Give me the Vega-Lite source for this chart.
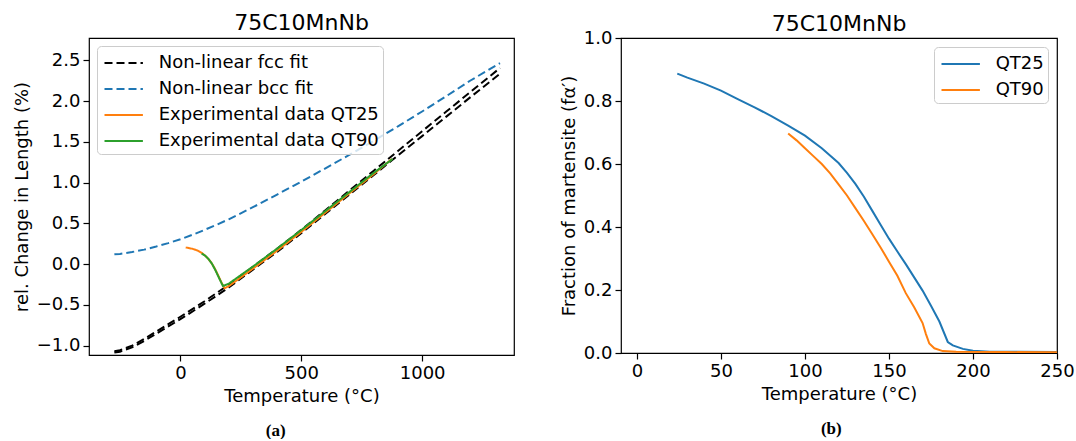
{
  "$schema": "https://vega.github.io/schema/vega-lite/v6.json",
  "background": "white",
  "padding": {"left": 12, "top": 11, "right": 0, "bottom": 0},
  "datasets": {
    "a": [
      {"T": -273, "v": -1.067, "series": "Non-linear fcc fit", "sub": "fcc1"},
      {"T": -250, "v": -1.056, "series": "Non-linear fcc fit", "sub": "fcc1"},
      {"T": -200, "v": -1.0, "series": "Non-linear fcc fit", "sub": "fcc1"},
      {"T": -150, "v": -0.918, "series": "Non-linear fcc fit", "sub": "fcc1"},
      {"T": -100, "v": -0.827, "series": "Non-linear fcc fit", "sub": "fcc1"},
      {"T": -50, "v": -0.736, "series": "Non-linear fcc fit", "sub": "fcc1"},
      {"T": 0, "v": -0.645, "series": "Non-linear fcc fit", "sub": "fcc1"},
      {"T": 100, "v": -0.455, "series": "Non-linear fcc fit", "sub": "fcc1"},
      {"T": 200, "v": -0.253, "series": "Non-linear fcc fit", "sub": "fcc1"},
      {"T": 300, "v": -0.032, "series": "Non-linear fcc fit", "sub": "fcc1"},
      {"T": 400, "v": 0.189, "series": "Non-linear fcc fit", "sub": "fcc1"},
      {"T": 500, "v": 0.42, "series": "Non-linear fcc fit", "sub": "fcc1"},
      {"T": 600, "v": 0.662, "series": "Non-linear fcc fit", "sub": "fcc1"},
      {"T": 700, "v": 0.904, "series": "Non-linear fcc fit", "sub": "fcc1"},
      {"T": 800, "v": 1.146, "series": "Non-linear fcc fit", "sub": "fcc1"},
      {"T": 900, "v": 1.388, "series": "Non-linear fcc fit", "sub": "fcc1"},
      {"T": 1000, "v": 1.63, "series": "Non-linear fcc fit", "sub": "fcc1"},
      {"T": 1100, "v": 1.871, "series": "Non-linear fcc fit", "sub": "fcc1"},
      {"T": 1200, "v": 2.112, "series": "Non-linear fcc fit", "sub": "fcc1"},
      {"T": 1322, "v": 2.405, "series": "Non-linear fcc fit", "sub": "fcc1"},
      {"T": -273, "v": -1.083, "series": "Non-linear fcc fit", "sub": "fcc2"},
      {"T": -250, "v": -1.074, "series": "Non-linear fcc fit", "sub": "fcc2"},
      {"T": -200, "v": -1.02, "series": "Non-linear fcc fit", "sub": "fcc2"},
      {"T": -150, "v": -0.942, "series": "Non-linear fcc fit", "sub": "fcc2"},
      {"T": -100, "v": -0.853, "series": "Non-linear fcc fit", "sub": "fcc2"},
      {"T": -50, "v": -0.764, "series": "Non-linear fcc fit", "sub": "fcc2"},
      {"T": 0, "v": -0.675, "series": "Non-linear fcc fit", "sub": "fcc2"},
      {"T": 100, "v": -0.485, "series": "Non-linear fcc fit", "sub": "fcc2"},
      {"T": 200, "v": -0.287, "series": "Non-linear fcc fit", "sub": "fcc2"},
      {"T": 300, "v": -0.068, "series": "Non-linear fcc fit", "sub": "fcc2"},
      {"T": 400, "v": 0.151, "series": "Non-linear fcc fit", "sub": "fcc2"},
      {"T": 500, "v": 0.38, "series": "Non-linear fcc fit", "sub": "fcc2"},
      {"T": 600, "v": 0.618, "series": "Non-linear fcc fit", "sub": "fcc2"},
      {"T": 700, "v": 0.856, "series": "Non-linear fcc fit", "sub": "fcc2"},
      {"T": 800, "v": 1.094, "series": "Non-linear fcc fit", "sub": "fcc2"},
      {"T": 900, "v": 1.332, "series": "Non-linear fcc fit", "sub": "fcc2"},
      {"T": 1000, "v": 1.57, "series": "Non-linear fcc fit", "sub": "fcc2"},
      {"T": 1100, "v": 1.809, "series": "Non-linear fcc fit", "sub": "fcc2"},
      {"T": 1200, "v": 2.048, "series": "Non-linear fcc fit", "sub": "fcc2"},
      {"T": 1322, "v": 2.335, "series": "Non-linear fcc fit", "sub": "fcc2"},
      {"T": -273, "v": 0.12, "series": "Non-linear bcc fit", "sub": "bcc"},
      {"T": -250, "v": 0.125, "series": "Non-linear bcc fit", "sub": "bcc"},
      {"T": -200, "v": 0.148, "series": "Non-linear bcc fit", "sub": "bcc"},
      {"T": -150, "v": 0.178, "series": "Non-linear bcc fit", "sub": "bcc"},
      {"T": -100, "v": 0.216, "series": "Non-linear bcc fit", "sub": "bcc"},
      {"T": -50, "v": 0.258, "series": "Non-linear bcc fit", "sub": "bcc"},
      {"T": 0, "v": 0.305, "series": "Non-linear bcc fit", "sub": "bcc"},
      {"T": 50, "v": 0.36, "series": "Non-linear bcc fit", "sub": "bcc"},
      {"T": 100, "v": 0.42, "series": "Non-linear bcc fit", "sub": "bcc"},
      {"T": 150, "v": 0.483, "series": "Non-linear bcc fit", "sub": "bcc"},
      {"T": 200, "v": 0.55, "series": "Non-linear bcc fit", "sub": "bcc"},
      {"T": 300, "v": 0.698, "series": "Non-linear bcc fit", "sub": "bcc"},
      {"T": 400, "v": 0.853, "series": "Non-linear bcc fit", "sub": "bcc"},
      {"T": 500, "v": 1.012, "series": "Non-linear bcc fit", "sub": "bcc"},
      {"T": 600, "v": 1.175, "series": "Non-linear bcc fit", "sub": "bcc"},
      {"T": 700, "v": 1.342, "series": "Non-linear bcc fit", "sub": "bcc"},
      {"T": 800, "v": 1.513, "series": "Non-linear bcc fit", "sub": "bcc"},
      {"T": 900, "v": 1.69, "series": "Non-linear bcc fit", "sub": "bcc"},
      {"T": 1000, "v": 1.872, "series": "Non-linear bcc fit", "sub": "bcc"},
      {"T": 1100, "v": 2.06, "series": "Non-linear bcc fit", "sub": "bcc"},
      {"T": 1200, "v": 2.252, "series": "Non-linear bcc fit", "sub": "bcc"},
      {"T": 1322, "v": 2.465, "series": "Non-linear bcc fit", "sub": "bcc"},
      {"T": 22, "v": 0.205, "series": "Experimental data QT25", "sub": "q25"},
      {"T": 50, "v": 0.188, "series": "Experimental data QT25", "sub": "q25"},
      {"T": 70, "v": 0.168, "series": "Experimental data QT25", "sub": "q25"},
      {"T": 90, "v": 0.135, "series": "Experimental data QT25", "sub": "q25"},
      {"T": 110, "v": 0.082, "series": "Experimental data QT25", "sub": "q25"},
      {"T": 125, "v": 0.03, "series": "Experimental data QT25", "sub": "q25"},
      {"T": 140, "v": -0.04, "series": "Experimental data QT25", "sub": "q25"},
      {"T": 155, "v": -0.13, "series": "Experimental data QT25", "sub": "q25"},
      {"T": 170, "v": -0.225, "series": "Experimental data QT25", "sub": "q25"},
      {"T": 183, "v": -0.295, "series": "Experimental data QT25", "sub": "q25"},
      {"T": 200, "v": -0.27, "series": "Experimental data QT25", "sub": "q25"},
      {"T": 300, "v": -0.055, "series": "Experimental data QT25", "sub": "q25"},
      {"T": 400, "v": 0.165, "series": "Experimental data QT25", "sub": "q25"},
      {"T": 500, "v": 0.395, "series": "Experimental data QT25", "sub": "q25"},
      {"T": 600, "v": 0.632, "series": "Experimental data QT25", "sub": "q25"},
      {"T": 700, "v": 0.87, "series": "Experimental data QT25", "sub": "q25"},
      {"T": 800, "v": 1.105, "series": "Experimental data QT25", "sub": "q25"},
      {"T": 875, "v": 1.29, "series": "Experimental data QT25", "sub": "q25"},
      {"T": 88, "v": 0.13, "series": "Experimental data QT90", "sub": "q90"},
      {"T": 100, "v": 0.11, "series": "Experimental data QT90", "sub": "q90"},
      {"T": 115, "v": 0.068, "series": "Experimental data QT90", "sub": "q90"},
      {"T": 130, "v": 0.008, "series": "Experimental data QT90", "sub": "q90"},
      {"T": 145, "v": -0.075, "series": "Experimental data QT90", "sub": "q90"},
      {"T": 160, "v": -0.17, "series": "Experimental data QT90", "sub": "q90"},
      {"T": 176, "v": -0.268, "series": "Experimental data QT90", "sub": "q90"},
      {"T": 200, "v": -0.24, "series": "Experimental data QT90", "sub": "q90"},
      {"T": 300, "v": -0.03, "series": "Experimental data QT90", "sub": "q90"},
      {"T": 400, "v": 0.19, "series": "Experimental data QT90", "sub": "q90"},
      {"T": 500, "v": 0.418, "series": "Experimental data QT90", "sub": "q90"},
      {"T": 600, "v": 0.652, "series": "Experimental data QT90", "sub": "q90"},
      {"T": 700, "v": 0.886, "series": "Experimental data QT90", "sub": "q90"},
      {"T": 800, "v": 1.12, "series": "Experimental data QT90", "sub": "q90"},
      {"T": 878, "v": 1.29, "series": "Experimental data QT90", "sub": "q90"}
    ],
    "b": [
      {"T": 24, "f": 0.887, "s": "QT25"},
      {"T": 30, "f": 0.874, "s": "QT25"},
      {"T": 40, "f": 0.855, "s": "QT25"},
      {"T": 50, "f": 0.833, "s": "QT25"},
      {"T": 60, "f": 0.806, "s": "QT25"},
      {"T": 70, "f": 0.78, "s": "QT25"},
      {"T": 80, "f": 0.752, "s": "QT25"},
      {"T": 90, "f": 0.722, "s": "QT25"},
      {"T": 100, "f": 0.69, "s": "QT25"},
      {"T": 110, "f": 0.65, "s": "QT25"},
      {"T": 120, "f": 0.603, "s": "QT25"},
      {"T": 125, "f": 0.572, "s": "QT25"},
      {"T": 130, "f": 0.537, "s": "QT25"},
      {"T": 135, "f": 0.497, "s": "QT25"},
      {"T": 140, "f": 0.452, "s": "QT25"},
      {"T": 145, "f": 0.407, "s": "QT25"},
      {"T": 150, "f": 0.363, "s": "QT25"},
      {"T": 155, "f": 0.322, "s": "QT25"},
      {"T": 160, "f": 0.282, "s": "QT25"},
      {"T": 165, "f": 0.24, "s": "QT25"},
      {"T": 170, "f": 0.198, "s": "QT25"},
      {"T": 175, "f": 0.15, "s": "QT25"},
      {"T": 180, "f": 0.1, "s": "QT25"},
      {"T": 185, "f": 0.035, "s": "QT25"},
      {"T": 188, "f": 0.024, "s": "QT25"},
      {"T": 194, "f": 0.013, "s": "QT25"},
      {"T": 200, "f": 0.007, "s": "QT25"},
      {"T": 210, "f": 0.004, "s": "QT25"},
      {"T": 225, "f": 0.004, "s": "QT25"},
      {"T": 250, "f": 0.003, "s": "QT25"},
      {"T": 90, "f": 0.697, "s": "QT90"},
      {"T": 95, "f": 0.675, "s": "QT90"},
      {"T": 100, "f": 0.65, "s": "QT90"},
      {"T": 105, "f": 0.625, "s": "QT90"},
      {"T": 110, "f": 0.6, "s": "QT90"},
      {"T": 115, "f": 0.57, "s": "QT90"},
      {"T": 120, "f": 0.535, "s": "QT90"},
      {"T": 125, "f": 0.5, "s": "QT90"},
      {"T": 130, "f": 0.46, "s": "QT90"},
      {"T": 135, "f": 0.42, "s": "QT90"},
      {"T": 140, "f": 0.378, "s": "QT90"},
      {"T": 145, "f": 0.335, "s": "QT90"},
      {"T": 150, "f": 0.29, "s": "QT90"},
      {"T": 155, "f": 0.245, "s": "QT90"},
      {"T": 160, "f": 0.19, "s": "QT90"},
      {"T": 165, "f": 0.145, "s": "QT90"},
      {"T": 170, "f": 0.095, "s": "QT90"},
      {"T": 172, "f": 0.06, "s": "QT90"},
      {"T": 174, "f": 0.03, "s": "QT90"},
      {"T": 177, "f": 0.015, "s": "QT90"},
      {"T": 182, "f": 0.006, "s": "QT90"},
      {"T": 190, "f": 0.004, "s": "QT90"},
      {"T": 220, "f": 0.003, "s": "QT90"},
      {"T": 250, "f": 0.002, "s": "QT90"}
    ]
  },
  "spacing": 44,
  "hconcat": [
    {
      "vconcat": [
        {
          "width": 425,
          "height": 317,
          "title": {"text": "75C10MnNb", "offset": 3},
          "data": {"name": "a"},
          "mark": {"type": "line", "strokeWidth": 2, "clip": true},
          "encoding": {
            "x": {"field": "T", "type": "quantitative", "scale": {"domain": [-378, 1380], "nice": false, "zero": false}, "axis": {"values": [0, 500, 1000], "format": "d", "title": "Temperature (°C)"}},
            "y": {"field": "v", "type": "quantitative", "scale": {"domain": [-1.114, 2.773], "nice": false, "zero": false}, "axis": {"values": [-1, -0.5, 0, 0.5, 1, 1.5, 2, 2.5], "format": ".1f", "title": "rel. Change in Length (%)"}},
            "color": {"field": "series", "type": "nominal", "scale": {"domain": ["Non-linear fcc fit", "Non-linear bcc fit", "Experimental data QT25", "Experimental data QT90"], "range": ["#000000", "#1f77b4", "#ff7f0e", "#2ca02c"]}, "legend": {"title": null, "orient": "top-left"}},
            "strokeDash": {"field": "series", "type": "nominal", "scale": {"domain": ["Non-linear fcc fit", "Non-linear bcc fit", "Experimental data QT25", "Experimental data QT90"], "range": [[8, 4], [8, 4], [1, 0], [1, 0]]}, "legend": {"title": null, "orient": "top-left"}},
            "detail": {"field": "sub", "type": "nominal"}
          }
        }
      ],
      "resolve": {"legend": {"color": "independent", "strokeDash": "independent"}},
      "title": {"text": "(a)", "orient": "bottom", "anchor": "middle", "dx": 12, "font": "Liberation Serif", "fontWeight": "bold", "fontSize": 17, "offset": 17}
    },
    {
      "vconcat": [
        {
          "width": 436,
          "height": 315,
          "title": {"text": "75C10MnNb", "offset": -7},
          "data": {"name": "b"},
          "mark": {"type": "line", "strokeWidth": 2, "clip": true},
          "encoding": {
            "x": {"field": "T", "type": "quantitative", "scale": {"domain": [-9.5, 250], "nice": false, "zero": false}, "axis": {"values": [0, 50, 100, 150, 200, 250], "title": "Temperature (°C)"}},
            "y": {"field": "f", "type": "quantitative", "scale": {"domain": [0, 1], "nice": false}, "axis": {"values": [0, 0.2, 0.4, 0.6, 0.8, 1.0], "format": ".1f", "title": "Fraction of martensite (fα′)"}},
            "color": {"field": "s", "type": "nominal", "scale": {"domain": ["QT25", "QT90"], "range": ["#1f77b4", "#ff7f0e"]}, "legend": {"title": null, "orient": "top-right", "offset": 9}}
          }
        }
      ],
      "resolve": {"legend": {"color": "independent"}},
      "title": {"text": "(b)", "orient": "bottom", "anchor": "middle", "dx": 14, "font": "Liberation Serif", "fontWeight": "bold", "fontSize": 17, "offset": 17}
    }
  ],
  "resolve": {"scale": {"color": "independent", "strokeDash": "independent", "x": "independent", "y": "independent"}, "legend": {"color": "independent", "strokeDash": "independent"}},
  "config": {
    "font": "DejaVu Sans",
    "view": {"stroke": "#000000", "strokeWidth": 1.2},
    "axis": {"grid": false, "domain": false, "ticks": true, "labelFlush": false, "tickColor": "#000000", "tickSize": 6, "tickWidth": 1.2, "labelColor": "#000000", "labelFontSize": 18, "labelFont": "DejaVu Sans", "labelPadding": 3, "titleFont": "DejaVu Sans", "titleFontSize": 18, "titleFontWeight": "normal", "titleColor": "#000000", "titlePadding": 5},
    "title": {"font": "DejaVu Sans", "fontSize": 22, "fontWeight": "normal", "color": "#000000"},
    "legend": {"labelFontSize": 18, "labelFont": "DejaVu Sans", "labelColor": "#000000", "symbolType": "M-1.6,0H1.6", "symbolSize": 576, "symbolStrokeWidth": 2, "symbolOffset": 9.7, "strokeColor": "#cccccc", "fillColor": "rgba(255,255,255,0.8)", "cornerRadius": 4, "padding": 4, "rowPadding": 4, "labelOffset": 22, "offset": 8, "labelLimit": 400}
  }
}
